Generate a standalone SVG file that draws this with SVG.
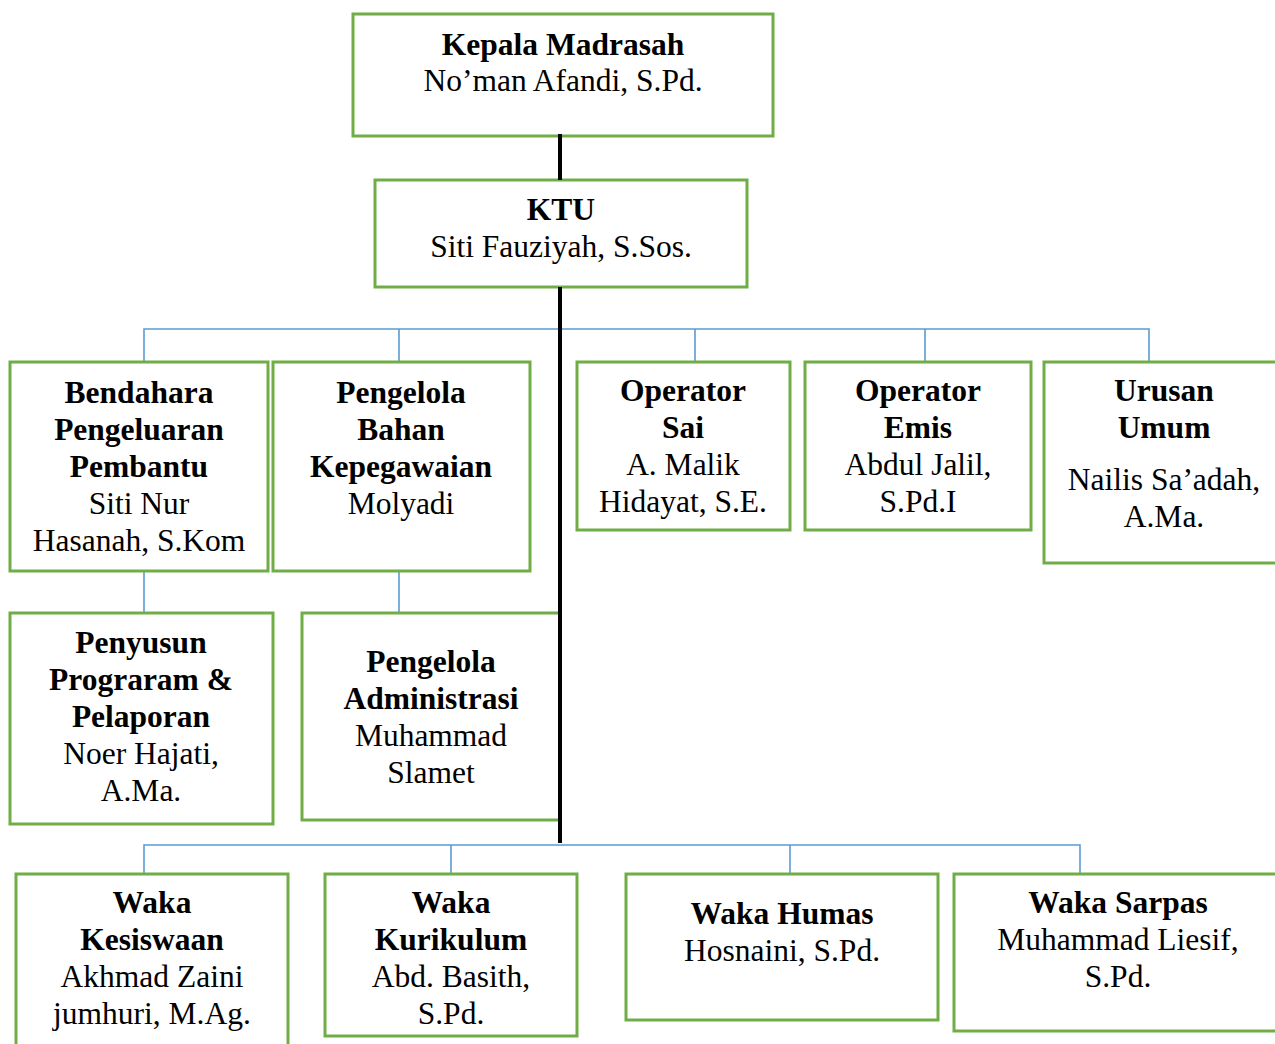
<svg xmlns="http://www.w3.org/2000/svg" width="1275" height="1044" viewBox="0 0 1275 1044">
<style>
.box{fill:#fff;stroke:#70AD47;stroke-width:3}
.b{font-family:"Liberation Serif","Times New Roman",serif;font-size:31.5px;font-weight:bold;text-anchor:middle;fill:#000}
.r{font-family:"Liberation Serif","Times New Roman",serif;font-size:31.5px;text-anchor:middle;fill:#000}
.bl{stroke:#5B9BD5;stroke-width:1.6;fill:none}
.k{stroke:#000;stroke-width:4;fill:none}
</style>
<rect width="1275" height="1044" fill="#fff"/>
<g id="connectors">
<path class="bl" d="M144 361V329H1149V361M399 329V361M695 329V361M925 329V361"/>
<path class="bl" d="M144 571V613M399 571V613"/>
<path class="bl" d="M144 873V845H1080V873M451 845V873M790 845V873"/>
</g>
<g id="n1"><rect class="box" x="353" y="14" width="420" height="122"/>
<text class="b" x="563" y="55">Kepala Madrasah</text><text class="r" x="563" y="91">No’man Afandi, S.Pd.</text></g>
<g id="n2"><rect class="box" x="375" y="180" width="372" height="107"/>
<text class="b" x="561" y="220">KTU</text><text class="r" x="561" y="257">Siti Fauziyah, S.Sos.</text></g>
<g id="n3"><rect class="box" x="10" y="362" width="258" height="209"/>
<text class="b" x="139" y="403">Bendahara</text><text class="b" x="139" y="440">Pengeluaran</text><text class="b" x="139" y="477">Pembantu</text><text class="r" x="139" y="514">Siti Nur</text><text class="r" x="139" y="551">Hasanah, S.Kom</text></g>
<g id="n4"><rect class="box" x="273" y="362" width="257" height="209"/>
<text class="b" x="401" y="403">Pengelola</text><text class="b" x="401" y="440">Bahan</text><text class="b" x="401" y="477">Kepegawaian</text><text class="r" x="401" y="514">Molyadi</text></g>
<g id="n5"><rect class="box" x="577" y="362" width="213" height="168"/>
<text class="b" x="683" y="401">Operator</text><text class="b" x="683" y="438">Sai</text><text class="r" x="683" y="475">A. Malik</text><text class="r" x="683" y="512">Hidayat, S.E.</text></g>
<g id="n6"><rect class="box" x="805" y="362" width="226" height="168"/>
<text class="b" x="918" y="401">Operator</text><text class="b" x="918" y="438">Emis</text><text class="r" x="918" y="475">Abdul Jalil,</text><text class="r" x="918" y="512">S.Pd.I</text></g>
<g id="n7"><rect class="box" x="1044" y="362" width="240" height="201"/>
<text class="b" x="1164" y="401">Urusan</text><text class="b" x="1164" y="438">Umum</text><text class="r" x="1164" y="490">Nailis Sa’adah,</text><text class="r" x="1164" y="527">A.Ma.</text></g>
<g id="n8"><rect class="box" x="10" y="613" width="263" height="211"/>
<text class="b" x="141" y="653">Penyusun</text><text class="b" x="141" y="690">Prograram &amp;</text><text class="b" x="141" y="727">Pelaporan</text><text class="r" x="141" y="764">Noer Hajati,</text><text class="r" x="141" y="801">A.Ma.</text></g>
<g id="n9"><rect class="box" x="302" y="613" width="258" height="207"/>
<text class="b" x="431" y="672">Pengelola</text><text class="b" x="431" y="709">Administrasi</text><text class="r" x="431" y="746">Muhammad</text><text class="r" x="431" y="783">Slamet</text></g>
<g id="n10"><rect class="box" x="16" y="874" width="272" height="180"/>
<text class="b" x="152" y="913">Waka</text><text class="b" x="152" y="950">Kesiswaan</text><text class="r" x="152" y="987">Akhmad Zaini</text><text class="r" x="152" y="1024">jumhuri, M.Ag.</text></g>
<g id="n11"><rect class="box" x="325" y="874" width="252" height="162"/>
<text class="b" x="451" y="913">Waka</text><text class="b" x="451" y="950">Kurikulum</text><text class="r" x="451" y="987">Abd. Basith,</text><text class="r" x="451" y="1024">S.Pd.</text></g>
<g id="n12"><rect class="box" x="626" y="874" width="312" height="146"/>
<text class="b" x="782" y="924">Waka Humas</text><text class="r" x="782" y="961">Hosnaini, S.Pd.</text></g>
<g id="n13"><rect class="box" x="954" y="874" width="330" height="157"/>
<text class="b" x="1118" y="913">Waka Sarpas</text><text class="r" x="1118" y="950">Muhammad Liesif,</text><text class="r" x="1118" y="987">S.Pd.</text></g>
<g id="trunk"><path class="k" d="M560 134V180M560 287V843"/></g>
</svg>
